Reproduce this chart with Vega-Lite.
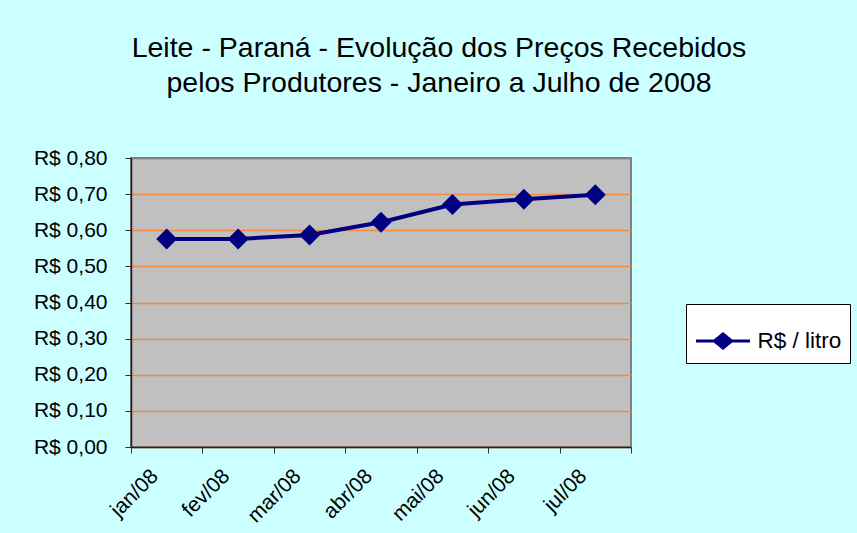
{
  "$schema": "https://vega.github.io/schema/vega-lite/v6.json",
  "width": 500,
  "height": 289,
  "autosize": {"type": "none"},
  "padding": {"left": 131, "top": 158, "right": 226, "bottom": 86},
  "background": "#CCFFFF",
  "config": {
    "font": "Liberation Sans",
    "view": {"fill": "#C0C0C0", "stroke": "#808080", "strokeWidth": 2}
  },
  "title": {
    "text": ["Leite - Paraná - Evolução dos Preços Recebidos", "pelos Produtores - Janeiro a Julho de 2008"],
    "font": "Liberation Sans",
    "fontSize": 28.5,
    "fontWeight": "normal",
    "color": "#000000",
    "lineHeight": 35,
    "anchor": "middle",
    "frame": "group",
    "dx": 58,
    "offset": 50
  },
  "data": {
    "values": [
      {"mes": "jan/08", "preco": 0.576, "serie": "R$ / litro"},
      {"mes": "fev/08", "preco": 0.576, "serie": "R$ / litro"},
      {"mes": "mar/08", "preco": 0.587, "serie": "R$ / litro"},
      {"mes": "abr/08", "preco": 0.622, "serie": "R$ / litro"},
      {"mes": "mai/08", "preco": 0.671, "serie": "R$ / litro"},
      {"mes": "jun/08", "preco": 0.686, "serie": "R$ / litro"},
      {"mes": "jul/08", "preco": 0.698, "serie": "R$ / litro"}
    ]
  },
  "encoding": {
    "x": {
      "field": "mes",
      "type": "nominal",
      "sort": null,
      "bandPosition": 0.5,
      "scale": {"type": "band", "paddingInner": 0, "paddingOuter": 0},
      "axis": {
        "title": null,
        "tickBand": "extent",
        "labelAngle": -45,
        "labelFontSize": 21,
        "labelColor": "#000000",
        "labelPadding": 12,
        "labelOffset": -20,
        "tickSize": 6,
        "tickColor": "#303030",
        "domainColor": "#202020",
        "domainWidth": 1.5,
        "grid": false
      }
    },
    "y": {
      "field": "preco",
      "type": "quantitative",
      "scale": {"domain": [0, 0.8], "nice": false, "zero": true},
      "axis": {
        "title": null,
        "values": [0, 0.1, 0.2, 0.3, 0.4, 0.5, 0.6, 0.7, 0.8],
        "labelExpr": "'R$ ' + replace(format(datum.value, '.2f'), '.', ',')",
        "labelFontSize": 21,
        "labelColor": "#000000",
        "labelPadding": 18,
        "tickSize": 6,
        "tickColor": "#303030",
        "domainColor": "#202020",
        "domainWidth": 1.5,
        "gridColor": {"condition": {"test": "datum.value >= 0.79", "value": "#808080"}, "value": "#F08A40"},
        "gridWidth": 1.5
      }
    }
  },
  "layer": [
    {
      "mark": {"type": "line", "strokeWidth": 4, "color": "#000080"},
      "encoding": {
        "color": {
          "field": "serie",
          "type": "nominal",
          "scale": {"range": ["#000080"]},
          "legend": {
            "title": "\u00a0\u00a0\u00a0\u00a0\u00a0\u00a0\u00a0\u00a0\u00a0\u00a0",
            "titleOrient": "right",
            "titleFontSize": 21,
            "titlePadding": 0,
            "orient": "none",
            "legendX": 555,
            "legendY": 146,
            "fillColor": "#FFFFFF",
            "strokeColor": "#000000",
            "padding": 8.5,
            "labelFontSize": 22.5,
            "labelColor": "#000000",
            "labelOffset": 6,
            "symbolType": "M-1,0L1,0M0,-0.26L0.32,0L0,0.26L-0.32,0Z",
            "symbolSize": 2916,
            "symbolStrokeWidth": 3,
            "symbolStrokeColor": "#000080",
            "symbolFillColor": "#000080",
            "symbolOpacity": 1,
            "encode": {"symbols": {"update": {"fill": {"value": "#000080"}, "stroke": {"value": "#000080"}, "opacity": {"value": 1}}}}
          }
        }
      }
    },
    {
      "mark": {"type": "point", "shape": "diamond", "filled": true, "size": 440, "color": "#000080", "opacity": 1}
    }
  ]
}
